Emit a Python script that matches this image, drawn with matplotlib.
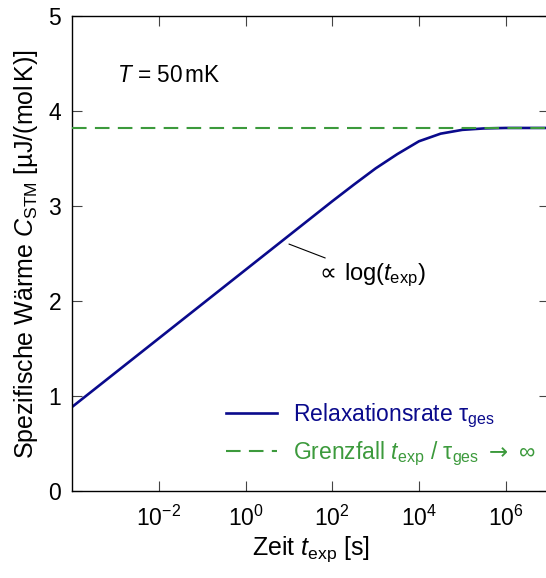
import numpy as np
import matplotlib
matplotlib.use('Agg')
import matplotlib.pyplot as plt

plt.rcParams['font.family'] = ['Liberation Sans', 'DejaVu Sans']
plt.rcParams['mathtext.fontset'] = 'custom'
plt.rcParams['mathtext.rm'] = 'Liberation Sans'
plt.rcParams['mathtext.it'] = 'Liberation Sans:italic'
plt.rcParams['mathtext.sf'] = 'DejaVu Sans'
plt.rcParams['mathtext.fallback'] = 'stixsans'

# data (half-decade steps)
log_t = [-4.0, -3.5, -3.0, -2.5, -2.0, -1.5, -1.0, -0.5, 0.0, 0.5, 1.0, 1.5,
         2.0, 2.5, 3.0, 3.5, 4.0, 4.5, 5.0, 5.5, 6.0, 6.5, 7.0]
c_stm = [0.89, 1.07, 1.25, 1.43, 1.61, 1.79, 1.97, 2.15, 2.33, 2.51, 2.69, 2.87,
         3.05, 3.225, 3.395, 3.545, 3.68, 3.76, 3.80, 3.815, 3.82, 3.82, 3.82]
c_limit = 3.82

xticks = [1e-2, 1e0, 1e2, 1e4, 1e6]
xticklabels = [r'$10^{-2}$', r'$10^{0}$', r'$10^{2}$', r'$10^{4}$', r'$10^{6}$']
yticks = [0, 1, 2, 3, 4, 5]

blue = '#0a0a8c'
green = '#3c9a3c'

fig = plt.figure(figsize=(5.46, 5.78), dpi=100)
ax = fig.add_axes([0.1324, 0.1497, 0.873, 0.8232])

t = 10.0 ** np.array(log_t)
ax.plot(t, c_stm, color=blue, lw=1.9, label=r'Relaxationsrate τ$_\mathrm{ges}$', zorder=2)
ax.axhline(c_limit, color=green, lw=1.5, dashes=(7, 4),
           label=r'Grenzfall $t_\mathrm{exp}$ / τ$_\mathrm{ges}$ ${\mathsf{\rightarrow}}$ ∞', zorder=3)

ax.set_xscale('log')
ax.set_xlim(1e-4, 1e7)
ax.set_ylim(0, 5)
ax.set_xticks(xticks)
ax.set_xticklabels(xticklabels)
ax.xaxis.set_minor_locator(matplotlib.ticker.NullLocator())
ax.set_yticks(yticks)
ax.tick_params(direction='in', length=7, width=0.8, top=True, right=True,
               labelsize=16.5, color='#444444')
ax.tick_params(axis='x', pad=10)
ax.tick_params(axis='y', pad=8)
for s in ax.spines.values():
    s.set_linewidth(1.0)

ax.set_xlabel(r'Zeit $t_\mathrm{exp}$ [s]', fontsize=18, labelpad=3)
ax.set_ylabel('Spezifische Wärme $C_\\mathrm{STM}$ [µJ/(mol$\\,$K)]', fontsize=18, labelpad=6)

ax.text(0.093, 0.875, r'$T$ = 50$\,$mK', transform=ax.transAxes, fontsize=16.3,
        va='center', ha='left')

# annotation for the logarithmic slope
ax.annotate(r'${\mathsf{\propto}}\,$log($t_\mathrm{exp}$)', xy=(10 ** 1.0, 2.60), xytext=(10 ** 1.62, 2.27),
            fontsize=17, va='center', ha='left',
            arrowprops=dict(arrowstyle='-', color='black', lw=0.8, shrinkA=2, shrinkB=0))

leg = ax.legend(loc='lower right', bbox_to_anchor=(0.99, 0.03), frameon=False,
                fontsize=16.5, handlelength=2.2, handletextpad=0.7, labelspacing=0.42,
                borderaxespad=0)
for txt, col in zip(leg.get_texts(), [blue, green]):
    txt.set_color(col)

fig.savefig('out.png', dpi=100)
